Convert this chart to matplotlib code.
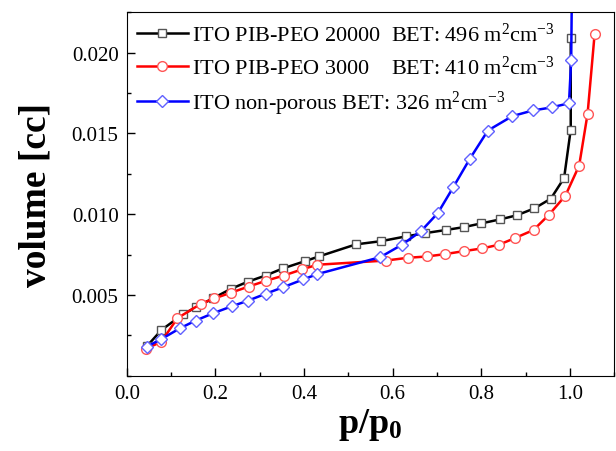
import numpy as np
import matplotlib
matplotlib.use("Agg")
import matplotlib.pyplot as plt
from matplotlib.ticker import MultipleLocator

# relative pressure / adsorbed volume
x_20000 = [0.045, 0.078, 0.127, 0.156, 0.195, 0.235, 0.274, 0.313, 0.352, 0.402,
           0.433, 0.517, 0.574, 0.629, 0.674, 0.720, 0.761, 0.800, 0.843, 0.880,
           0.920, 0.957, 0.987, 1.002, 1.002]
y_20000 = [0.00182, 0.00283, 0.00381, 0.00424, 0.00480, 0.00538, 0.00583, 0.00620,
           0.00664, 0.00709, 0.00738, 0.00813, 0.00833, 0.00862, 0.00883, 0.00902,
           0.00920, 0.00943, 0.00968, 0.00993, 0.01036, 0.01096, 0.01224, 0.01524,
           0.02093]

x_3000 = [0.042, 0.078, 0.114, 0.167, 0.197, 0.236, 0.275, 0.313, 0.354, 0.395,
          0.430, 0.585, 0.634, 0.677, 0.719, 0.760, 0.802, 0.840, 0.876, 0.918,
          0.953, 0.990, 1.021, 1.040, 1.056]
y_3000 = [0.00165, 0.00211, 0.00356, 0.00445, 0.00478, 0.00515, 0.00552, 0.00587,
          0.00620, 0.00658, 0.00687, 0.00713, 0.00730, 0.00738, 0.00753, 0.00771,
          0.00788, 0.00811, 0.00852, 0.00902, 0.00997, 0.01115, 0.01301, 0.01621,
          0.02118]

x_nonporous = [0.045, 0.078, 0.120, 0.155, 0.195, 0.237, 0.274, 0.313, 0.353, 0.398,
               0.430, 0.572, 0.621, 0.664, 0.702, 0.737, 0.774, 0.815, 0.870, 0.916,
               0.959, 0.998, 1.003, 1.005]
y_nonporous = [0.00180, 0.00227, 0.00294, 0.00341, 0.00387, 0.00430, 0.00465, 0.00507,
               0.00548, 0.00596, 0.00629, 0.00734, 0.00811, 0.00895, 0.01007, 0.01168,
               0.01342, 0.01518, 0.01607, 0.01642, 0.01661, 0.01687, 0.01952, 0.02500]

labels = [r"ITO PIB-PEO 20000  BET: 496 m$^{2}$cm$^{-3}$",
          r"ITO PIB-PEO 3000    BET: 410 m$^{2}$cm$^{-3}$",
          r"ITO non-porous BET: 326 m$^{2}$cm$^{-3}$"]

plt.rcParams['font.family'] = ['Liberation Serif', 'DejaVu Serif']
plt.rcParams['mathtext.fontset'] = 'custom'
plt.rcParams['mathtext.rm'] = 'Liberation Serif'
plt.rcParams['mathtext.it'] = 'Liberation Serif:italic'
plt.rcParams['mathtext.bf'] = 'Liberation Serif:bold'

fig = plt.figure(figsize=(6.16, 4.52), dpi=100)
ax = fig.add_axes([0.206, 0.1666, 0.791, 0.804])

ax.plot(x_20000, y_20000, color='black', lw=1.8, marker='s', ms=6,
        mfc='white', mec='#555555', mew=1, label=labels[0])
ax.plot(x_3000, y_3000, color='red', lw=1.8, marker='o', ms=7,
        mfc='white', mec='#ff5555', mew=1, label=labels[1])
ax.plot(x_nonporous, y_nonporous, color='blue', lw=1.8, marker='D', ms=6,
        mfc='white', mec='#6060ff', mew=1, label=labels[2])

ax.set_xlim(0, 1.1)
ax.set_ylim(0, 0.0225)
ax.set_xticks([0.0, 0.2, 0.4, 0.6, 0.8, 1.0])
ax.set_yticks([0.005, 0.010, 0.015, 0.020])
ax.xaxis.set_minor_locator(MultipleLocator(0.1))
ax.yaxis.set_minor_locator(MultipleLocator(0.0025))
ax.tick_params(which='both', direction='in', labelsize=15, pad=6)
ax.tick_params(which='major', length=6, width=1)
ax.tick_params(which='minor', length=3, width=1)
ax.xaxis.set_major_formatter(plt.FormatStrFormatter('%.1f'))
ax.yaxis.set_major_formatter(plt.FormatStrFormatter('%.3f'))

ax.set_xlabel(r"$\mathbf{p/p_0}$", fontsize=26, labelpad=2)
ax.set_ylabel("volume [cc]", fontsize=27, fontweight='bold', labelpad=13)

ax.legend(loc='upper left', frameon=False, fontsize=16, numpoints=1,
          handlelength=2.3, handletextpad=0.2, labelspacing=0.45,
          borderaxespad=0.15, borderpad=0.3)

fig.savefig("out.png", dpi=100)
